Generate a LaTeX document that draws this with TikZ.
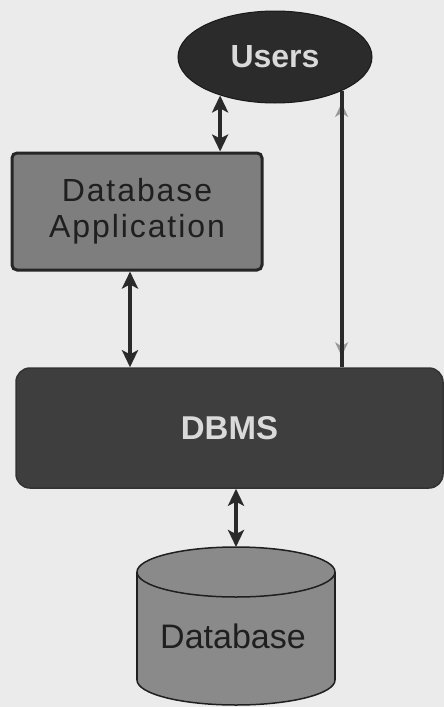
\documentclass[tikz,border=0pt]{standalone}
\usepackage{fontspec}
\setmainfont{Liberation Sans}
\usetikzlibrary{arrows.meta,shapes.geometric}

\definecolor{bg}{HTML}{EBEBEB}
\definecolor{inkdark}{HTML}{2A2A2A}
\definecolor{usersfill}{HTML}{2B2B2B}
\definecolor{appfill}{HTML}{7E7E7E}
\definecolor{dbmsfill}{HTML}{3E3E3E}
\definecolor{dbfill}{HTML}{8A8A8A}
\definecolor{lighttext}{HTML}{DADADA}
\definecolor{faintgray}{HTML}{9A9A9A}

\tikzset{
  tip/.tip={Stealth[length=17pt,width=16pt,inset=4pt]},
  twoway/.style={draw=inkdark, line width=3.5pt, {tip}-{tip}},
  faintway/.style={draw=faintgray, line width=2pt,
    {Stealth[length=14pt,width=13pt,inset=4pt]}-{Stealth[length=14pt,width=13pt,inset=4pt]}},
  thinline/.style={draw=inkdark, line width=4pt},
  lighttitle/.style={text=lighttext, font=\fontsize{32}{36}\selectfont\bfseries},
  darktitle/.style={text=black!88, font=\fontsize{32}{36}\selectfont\addfontfeature{LetterSpace=6}},
}

\begin{document}
\begin{tikzpicture}[x=1pt, y=-1pt]
  % page
  \fill[bg] (0,0) rectangle (444,707);
  \useasboundingbox (0,0) rectangle (444,707);

  % users
  \node[ellipse, fill=usersfill, draw=black!90, line width=1pt,
        minimum width=194pt, minimum height=92pt, inner sep=0pt,
        lighttitle] (users) at (275,57) {Users};

  % application
  \node[rectangle, rounded corners=5pt, fill=appfill, draw=black!85,
        line width=3pt, minimum width=250pt, minimum height=117pt,
        align=center, darktitle] (app) at (137,211.5) {Database\\Application};

  % dbms
  \node[rectangle, rounded corners=14pt, fill=dbmsfill, draw=black!80,
        line width=1.5pt, minimum width=427pt, minimum height=120pt,
        lighttitle, font=\fontsize{33}{36}\selectfont\bfseries] (dbms) at (229.5,428) {DBMS};

  % database cylinder
  \filldraw[fill=dbfill, draw=black!88, line width=1.5pt] (236,680) ellipse [x radius=99, y radius=25];
  \fill[dbfill] (137,572) rectangle (335,680);
  \draw[black!88, line width=1.5pt] (137,572) -- (137,680) (335,572) -- (335,680);
  \filldraw[fill=dbfill, draw=black!88, line width=1.5pt] (236,572) ellipse [x radius=99, y radius=25];
  \coordinate (dbtop) at (236,547);
  \node[text=black!88, font=\fontsize{34}{36}\selectfont] (db) at (233,636) {Database};

  % connectors
  \draw[twoway] (users.215) -- (users.215 |- app.north);
  \draw[twoway] ([xshift=-7pt]app.south) -- ([xshift=-7pt]app.south |- dbms.north);
  \draw[twoway] (dbtop |- dbms.south) -- (dbtop);
  \draw[faintway] ([yshift=-12pt]users.333) -- ([yshift=11pt]users.333 |- dbms.north);
  \draw[thinline] (users.333) -- (users.333 |- dbms.north);
\end{tikzpicture}
\end{document}
